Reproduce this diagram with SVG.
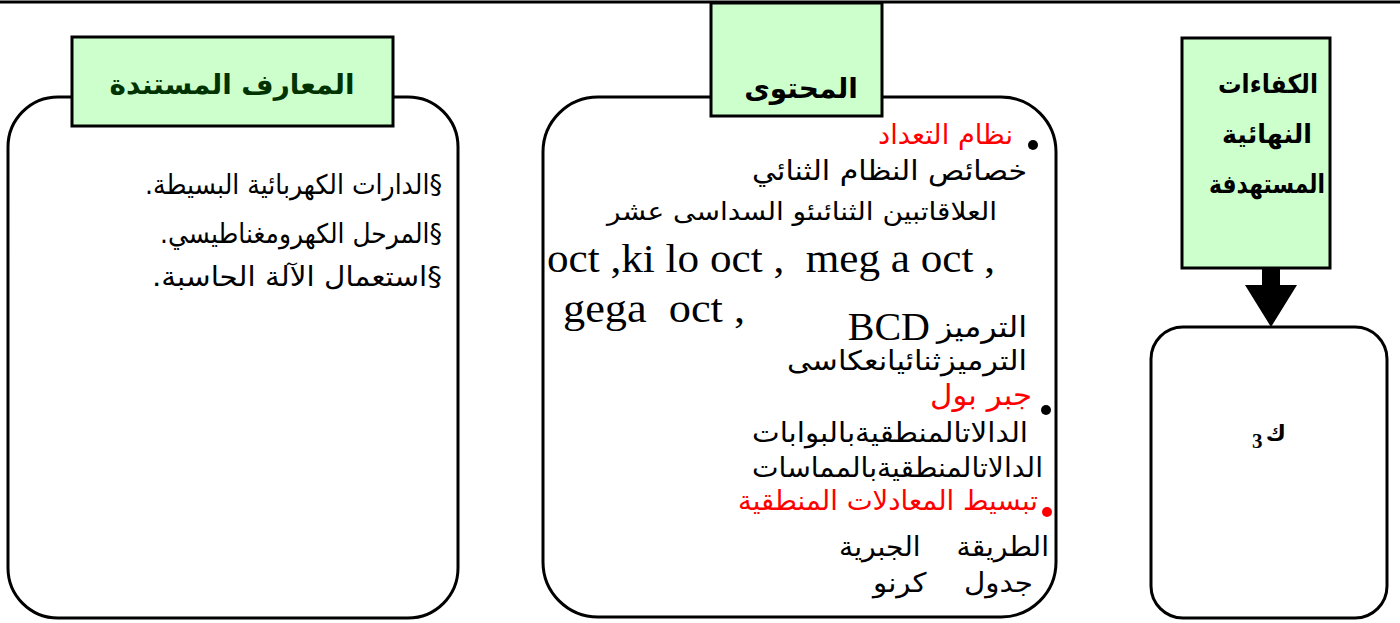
<svg xmlns="http://www.w3.org/2000/svg" width="1400" height="623" viewBox="0 0 1400 623">
<style>
.box{fill:#fff;stroke:#000;stroke-width:3}
.hdr{fill:#ccffcc;stroke:#000;stroke-width:3}
.ar{font-family:"DejaVu Sans",sans-serif;font-size:27px;fill:#000}
.red{fill:#ff0000}
.ht{font-family:"DejaVu Sans",sans-serif;font-weight:bold;font-size:28px}
.hs{font-family:"DejaVu Sans",sans-serif;font-weight:bold;font-size:26px;fill:#000}
.lat{font-family:"Liberation Serif",serif;font-size:40px;fill:#000}
</style>
<rect x="0" y="0" width="1400" height="623" fill="#fff"/>
<line x1="0" y1="2" x2="1400" y2="2" stroke="#000" stroke-width="3"/>
<g id="prereq">
<rect class="box" x="8" y="97" width="450" height="521" rx="50" ry="50"/>
<rect class="hdr" x="72" y="37" width="321" height="89"/>
<text class="ht" x="232" y="94" text-anchor="middle" fill="#003300" textLength="245" lengthAdjust="spacingAndGlyphs">المعارف المستندة</text>
<text class="ar" x="442" y="194" direction="rtl" text-anchor="start" textLength="297" lengthAdjust="spacingAndGlyphs">§الدارات الكهربائية البسيطة.</text>
<text class="ar" x="442" y="243" direction="rtl" text-anchor="start" textLength="282" lengthAdjust="spacingAndGlyphs">§المرحل الكهرومغناطيسي.</text>
<text class="ar" x="442" y="286" direction="rtl" text-anchor="start" textLength="290" lengthAdjust="spacingAndGlyphs">§استعمال الآلة الحاسبة.</text>
</g>
<g id="content">
<rect class="box" x="543" y="97" width="513" height="520" rx="55" ry="55"/>
<rect class="hdr" x="711" y="3" width="171" height="113"/>
<text class="ht" x="801" y="98" text-anchor="middle" fill="#000">المحتوى</text>
<circle cx="1033" cy="145" r="5" fill="#000"/>
<text class="ar red" x="1013" y="144" direction="rtl" text-anchor="start" textLength="135" lengthAdjust="spacingAndGlyphs">نظام التعداد</text>
<text class="ar" x="1027" y="180" direction="rtl" text-anchor="start" textLength="275" lengthAdjust="spacingAndGlyphs">خصائص النظام الثنائي</text>
<text class="ar" x="997" y="220" direction="rtl" text-anchor="start" style="font-size:25px" textLength="390" lengthAdjust="spacingAndGlyphs">العلاقاتبين الثنائىئو السداسى عشر</text>
<text class="lat" x="547" y="272" xml:space="preserve" textLength="448" lengthAdjust="spacingAndGlyphs">oct ,ki lo oct ,  meg a oct ,</text>
<text class="lat" x="563" y="322" xml:space="preserve" textLength="182" lengthAdjust="spacingAndGlyphs">gega  oct ,</text>
<text class="ar" x="1027" y="337" text-anchor="end" style="font-size:29px" textLength="90" lengthAdjust="spacingAndGlyphs">الترميز</text>
<text class="lat" x="930" y="340" text-anchor="end">BCD</text>
<text class="ar" x="1027" y="370" direction="rtl" text-anchor="start" textLength="240" lengthAdjust="spacingAndGlyphs">الترميزثنائيانعكاسى</text>
<circle cx="1046" cy="410" r="5" fill="#000"/>
<text class="ar red" x="1032" y="405" direction="rtl" text-anchor="start" style="font-size:29px" textLength="102" lengthAdjust="spacingAndGlyphs">جبر بول</text>
<text class="ar" x="1028" y="442" direction="rtl" text-anchor="start" textLength="276" lengthAdjust="spacingAndGlyphs">الدالاتالمنطقيةبالبوابات</text>
<text class="ar" x="1043" y="477" direction="rtl" text-anchor="start" textLength="291" lengthAdjust="spacingAndGlyphs">الدالاتالمنطقيةبالمماسات</text>
<circle cx="1047" cy="512" r="5" fill="#ff0000"/>
<text class="ar red" x="1038" y="510" direction="rtl" text-anchor="start" textLength="300" lengthAdjust="spacingAndGlyphs">تبسيط المعادلات المنطقية</text>
<text class="ar" x="1049" y="556" direction="rtl" text-anchor="start" xml:space="preserve" textLength="210" lengthAdjust="spacingAndGlyphs">الطريقة    الجبرية</text>
<text class="ar" x="1033" y="592" direction="rtl" text-anchor="start" xml:space="preserve" textLength="160" lengthAdjust="spacingAndGlyphs">جدول    كرنو</text>
</g>
<g id="competencies">
<rect class="hdr" x="1182" y="38" width="148" height="230"/>
<text class="hs" x="1268" y="93" text-anchor="middle" textLength="100" lengthAdjust="spacingAndGlyphs">الكفاءات</text>
<text class="hs" x="1267" y="143" text-anchor="middle" textLength="90" lengthAdjust="spacingAndGlyphs">النهائية</text>
<text class="hs" x="1267" y="193" text-anchor="middle" textLength="116" lengthAdjust="spacingAndGlyphs">المستهدفة</text>
</g>
<g id="k3">
<rect class="box" x="1151" y="327" width="236" height="291" rx="32" ry="32"/>
<text x="1286" y="441" font-family="DejaVu Sans,sans-serif" font-weight="bold" font-size="22" text-anchor="end">ك</text>
<text x="1252" y="448" font-family="Liberation Serif,serif" font-weight="bold" font-size="21">3</text>
</g>
<g id="connectors">
<polygon points="1262,268 1280,268 1280,285 1297,285 1271,327 1245,285 1262,285" fill="#000"/>
</g>
</svg>
